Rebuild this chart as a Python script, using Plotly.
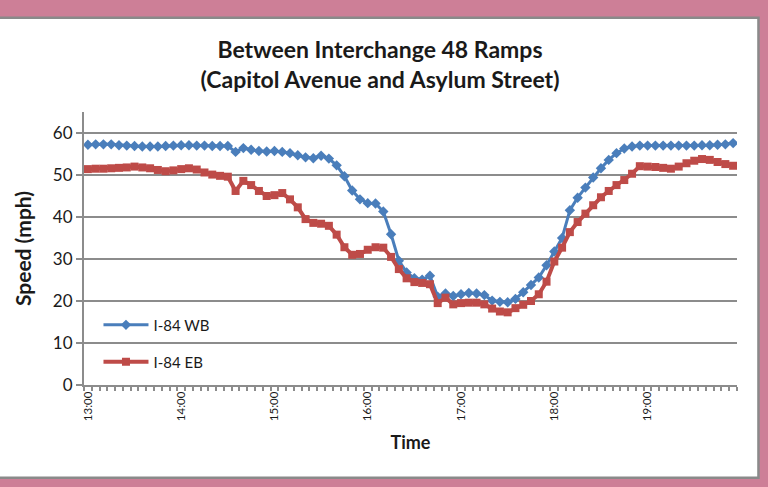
import plotly.graph_objects as go

# ---------------- data ----------------
times = [f"{13 + k // 12}:{(k % 12) * 5:02d}" for k in range(84)]
tick_labels = ["13:00", "14:00", "15:00", "16:00", "17:00", "18:00", "19:00"]

wb_speed = [
    57.2, 57.3, 57.3, 57.3, 57.1, 57.0, 56.9, 56.8, 56.8, 56.8, 56.9, 57.0,
    57.1, 57.1, 57.0, 57.0, 56.9, 56.9, 56.9, 55.5, 56.4, 56.0, 55.7, 55.6,
    55.7, 55.5, 55.2, 54.7, 54.2, 54.0, 54.6, 53.9, 52.3, 49.7, 46.3, 44.2,
    43.3, 43.2, 41.3, 35.9, 29.6, 26.8, 25.4, 25.1, 26.0, 21.0, 21.8, 21.2,
    21.6, 21.9, 21.8, 21.4, 20.1, 19.8, 19.7, 20.5, 22.1, 23.8, 25.6, 28.5,
    31.8, 35.0, 41.6, 44.6, 47.0, 49.4, 51.6, 53.6, 55.2, 56.3, 56.8, 57.0,
    57.0, 57.0, 57.0, 57.0, 57.0, 57.0, 57.0, 57.1, 57.1, 57.2, 57.3, 57.6,
]
eb_speed = [
    51.4, 51.5, 51.5, 51.6, 51.7, 51.8, 52.0, 51.8, 51.6, 51.2, 50.9, 51.1,
    51.4, 51.6, 51.3, 50.6, 50.1, 49.8, 49.6, 46.2, 48.6, 47.6, 46.2, 45.0,
    45.2, 45.7, 44.2, 42.3, 39.5, 38.6, 38.4, 37.9, 35.8, 32.8, 31.0, 31.2,
    32.2, 32.8, 32.7, 30.5, 27.6, 25.4, 24.5, 24.3, 24.0, 19.5, 20.8, 19.2,
    19.5, 19.6, 19.6, 19.2, 18.2, 17.5, 17.3, 18.3, 19.1, 20.0, 21.6, 24.6,
    29.4, 32.7, 36.4, 38.8, 40.8, 42.8, 44.7, 46.2, 47.6, 48.8, 50.3, 52.1,
    52.0, 51.9, 51.7, 51.5, 52.0, 52.8, 53.4, 53.8, 53.6, 53.1, 52.6, 52.2,
]
series_names = ["I-84 WB", "I-84 EB"]

# ---------------- layout constants ----------------
W, H = 768, 487
ML, MR, MT, MB = 83.5, 30.5, 111.5, 102
PW, PH = W - ML - MR, H - MT - MB
PINK = "#cd7f97"
GRID = "#8c8c8c"
TXT = "#1a1a1a"
FONT = "Lato, 'Open Sans', sans-serif"


def px_x(p):
    return (p - ML) / PW


def px_y(p):
    return (H - MB - p) / PH


pos = list(range(len(times)))

fig = go.Figure()
fig.add_trace(go.Scatter(
    x=pos, y=wb_speed, name=series_names[0], mode="lines+markers",
    text=times, hovertemplate="%{text}: %{y}<extra></extra>",
    line=dict(color="#4a7ebb", width=3),
    marker=dict(symbol="diamond", size=8, color="#4a7ebb"),
    legend="legend",
))
fig.add_trace(go.Scatter(
    x=pos, y=eb_speed, name=series_names[1], mode="lines+markers",
    text=times, hovertemplate="%{text}: %{y}<extra></extra>",
    line=dict(color="#be4b48", width=4),
    marker=dict(symbol="square", size=8, color="#be4b48"),
    legend="legend2",
))

fig.update_layout(
    width=W, height=H,
    margin=dict(l=ML, r=MR, t=MT, b=MB, pad=0),
    paper_bgcolor=PINK, plot_bgcolor="white",
    font=dict(family=FONT, color=TXT),
    title=dict(
        text="<b>Between Interchange 48 Ramps<br>(Capitol Avenue and Asylum Street)</b>",
        x=380 / W, xanchor="center", xref="container",
        y=1 - 58 / H, yanchor="middle", yref="container",
        font=dict(size=23, family=FONT, color=TXT),
    ),
    showlegend=True,
    legend=dict(x=px_x(98), y=px_y(325), xanchor="left", yanchor="middle",
                itemwidth=45,
                bgcolor="rgba(0,0,0,0)", font=dict(size=15, color=TXT)),
    legend2=dict(x=px_x(98), y=px_y(362), xanchor="left", yanchor="middle",
                 itemwidth=45,
                 bgcolor="rgba(0,0,0,0)", font=dict(size=15, color=TXT)),
    xaxis=dict(
        range=[-0.5, len(times) - 0.5],
        tickmode="array",
        tickvals=[times.index(t) for t in tick_labels],
        ticktext=tick_labels,
        tickangle=-90,
        tickfont=dict(size=11.5, color=TXT),
        ticks="",
        showgrid=False, zeroline=False,
        showline=True, linecolor=GRID, linewidth=2,
        minor=dict(ticks="outside", tick0=-0.5, dtick=1, ticklen=4,
                   tickwidth=1.5, tickcolor=GRID, showgrid=False),
        title=dict(text="<b>Time</b>", font=dict(size=18, color=TXT), standoff=16),
    ),
    yaxis=dict(
        range=[0, 65],
        tickmode="linear", tick0=0, dtick=10,
        tickfont=dict(size=17, color=TXT),
        ticks="outside", ticklen=6, tickwidth=2, tickcolor=GRID,
        showgrid=True, gridcolor=GRID, gridwidth=2,
        zeroline=False,
        showline=True, linecolor=GRID, linewidth=2,
        title=dict(text="<b>Speed (mph)</b>", font=dict(size=21, color=TXT), standoff=16),
    ),
    shapes=[
        dict(type="rect", xref="paper", yref="paper", layer="below",
             x0=px_x(-4), x1=px_x(759), y0=px_y(478), y1=px_y(17),
             fillcolor="white", line=dict(color="#8a8a8a", width=2.5)),
    ],
)

fig.write_html("out.html", config={"displayModeBar": False},
               post_script="document.body.style.margin='0px';document.body.style.background='%s';" % PINK)
